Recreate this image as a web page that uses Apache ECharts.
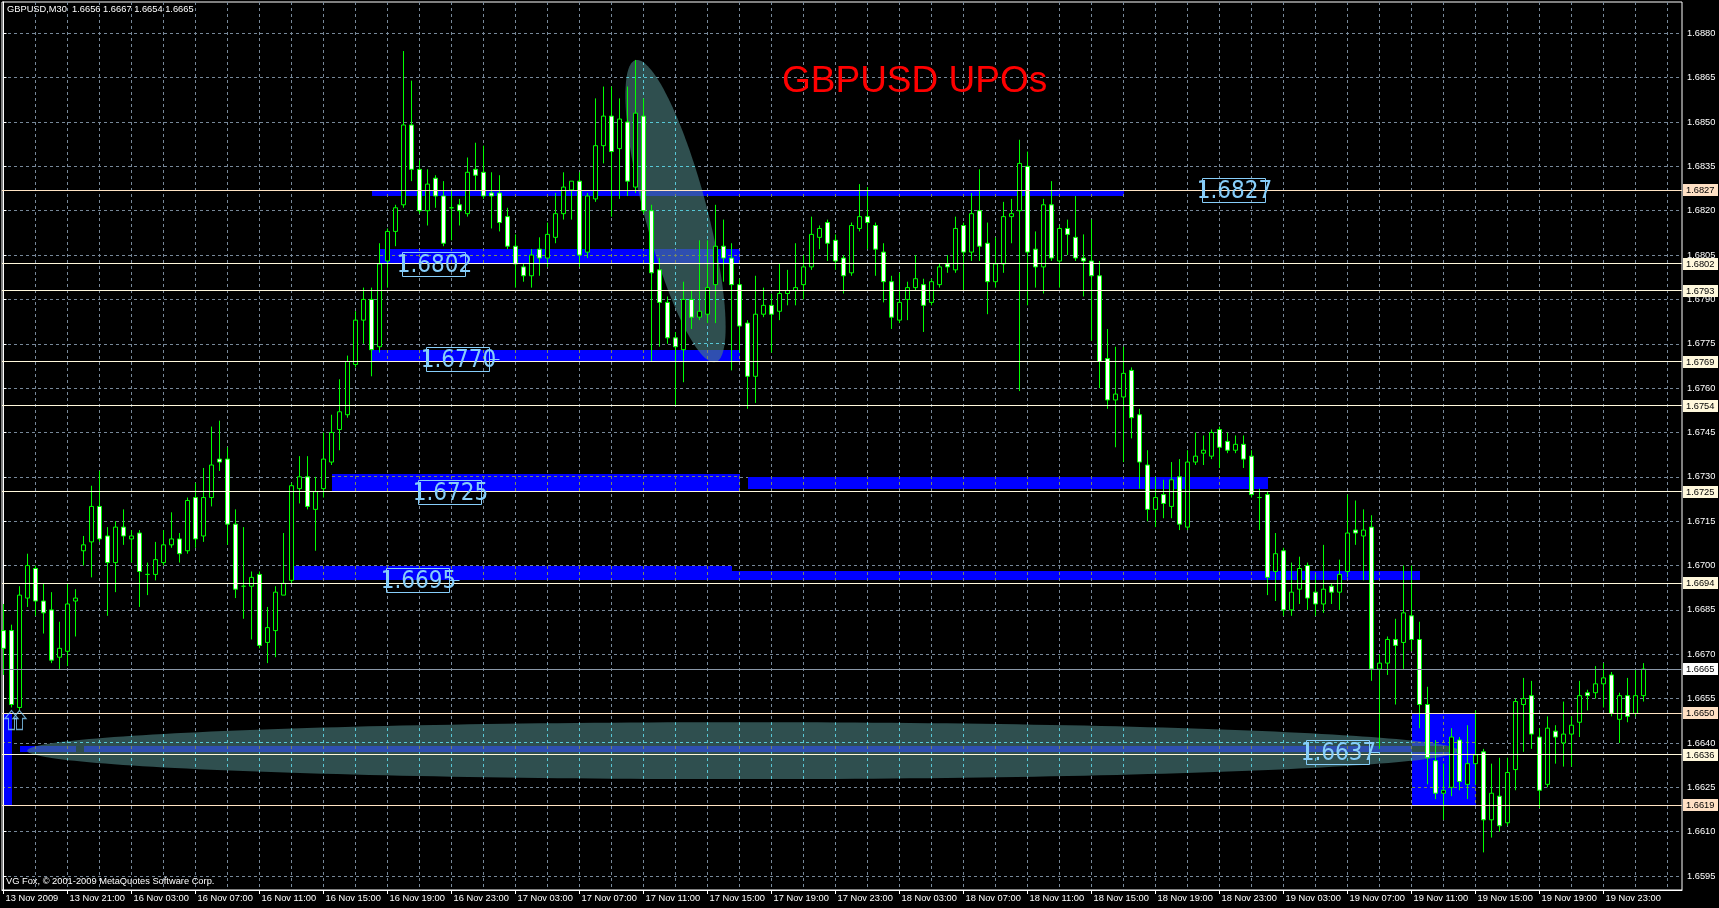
<!DOCTYPE html>
<html><head><meta charset="utf-8">
<script src="https://cdn.jsdelivr.net/npm/echarts@6/dist/echarts.min.js"></script>
<style>html,body{margin:0;padding:0;background:#000;overflow:hidden}#c{width:1719px;height:908px}</style>
</head><body><div id="c"></div>
<script>
// ---- data (GBPUSD M30) ----
const opens  = [1.6678,1.6678,1.6652,1.6689,1.6699,1.6688,1.6685,1.6669,1.6671,1.6688,1.6705,1.6708,1.6720,1.6710,1.6701,1.6713,1.6709,1.6711,1.6697,1.6697,1.6701,1.6707,1.6709,1.6705,1.6723,1.6710,1.6723,1.6736,1.6736,1.6714,1.6693,1.6693,1.6697,1.6674,1.6678,1.6690,1.6695,1.6726,1.6730,1.6719,1.6726,1.6735,1.6746,1.6751,1.6768,1.6783,1.6790,1.6774,1.6803,1.6813,1.6822,1.6849,1.6834,1.6820,1.6831,1.6825,1.6821,1.6822,1.6819,1.6834,1.6833,1.6826,1.6826,1.6818,1.6808,1.6801,1.6798,1.6807,1.6804,1.6811,1.6819,1.6827,1.6830,1.6806,1.6824,1.6842,1.6852,1.6841,1.6850,1.6828,1.6852,1.6820,1.6800,1.6789,1.6777,1.6773,1.6790,1.6784,1.6785,1.6795,1.6808,1.6804,1.6795,1.6782,1.6764,1.6785,1.6788,1.6786,1.6792,1.6793,1.6795,1.6801,1.6811,1.6816,1.6810,1.6804,1.6799,1.6814,1.6818,1.6815,1.6806,1.6796,1.6783,1.6790,1.6794,1.6795,1.6789,1.6795,1.6802,1.6800,1.6815,1.6806,1.6820,1.6809,1.6796,1.6802,1.6818,1.6820,1.6835,1.6807,1.6801,1.6822,1.6803,1.6814,1.6811,1.6804,1.6803,1.6798,1.6770,1.6756,1.6757,1.6766,1.6751,1.6734,1.6719,1.6724,1.6720,1.6730,1.6713,1.6735,1.6738,1.6737,1.6746,1.6742,1.6739,1.6741,1.6737,1.6723,1.6724,1.6698,1.6705,1.6685,1.6692,1.6700,1.6691,1.6687,1.6693,1.6691,1.6698,1.6712,1.6710,1.6713,1.6665,1.6667,1.6675,1.6674,1.6683,1.6675,1.6653,1.6634,1.6623,1.6625,1.6641,1.6626,1.6633,1.6637,1.6614,1.6622,1.6613,1.6631,1.6653,1.6656,1.6642,1.6626,1.6644,1.6640,1.6643,1.6647,1.6657,1.6657,1.6660,1.6663,1.6648,1.6656,1.6650,1.6656];
const closes = [1.6672,1.6653,1.6690,1.6700,1.6688,1.6684,1.6668,1.6672,1.6687,1.6689,1.6707,1.6720,1.6709,1.6701,1.6713,1.6710,1.6710,1.6698,1.6697,1.6702,1.6707,1.6709,1.6704,1.6722,1.6709,1.6723,1.6734,1.6735,1.6714,1.6692,1.6693,1.6696,1.6673,1.6679,1.6691,1.6694,1.6727,1.6730,1.6720,1.6725,1.6736,1.6745,1.6752,1.6769,1.6783,1.6790,1.6773,1.6802,1.6813,1.6821,1.6849,1.6834,1.6820,1.6829,1.6825,1.6809,1.6821,1.6820,1.6833,1.6832,1.6825,1.6825,1.6816,1.6808,1.6802,1.6798,1.6805,1.6804,1.6812,1.6819,1.6828,1.6830,1.6805,1.6825,1.6842,1.6852,1.6840,1.6851,1.6830,1.6853,1.6820,1.6799,1.6789,1.6777,1.6774,1.6790,1.6784,1.6786,1.6794,1.6808,1.6804,1.6795,1.6781,1.6764,1.6785,1.6788,1.6785,1.6792,1.6793,1.6794,1.6801,1.6812,1.6814,1.6809,1.6803,1.6798,1.6815,1.6818,1.6816,1.6807,1.6796,1.6784,1.6789,1.6794,1.6797,1.6788,1.6796,1.6801,1.6801,1.6814,1.6806,1.6819,1.6808,1.6796,1.6802,1.6818,1.6819,1.6836,1.6806,1.6801,1.6822,1.6804,1.6814,1.6812,1.6804,1.6803,1.6798,1.6769,1.6756,1.6758,1.6765,1.6750,1.6735,1.6719,1.6723,1.6721,1.6729,1.6714,1.6735,1.6737,1.6739,1.6745,1.6740,1.6739,1.6741,1.6736,1.6724,1.6723,1.6696,1.6704,1.6685,1.6691,1.6699,1.6689,1.6687,1.6692,1.6691,1.6697,1.6711,1.6711,1.6712,1.6665,1.6667,1.6675,1.6673,1.6684,1.6675,1.6653,1.6635,1.6623,1.6624,1.6642,1.6627,1.6633,1.6636,1.6614,1.6623,1.6612,1.6630,1.6654,1.6655,1.6643,1.6624,1.6645,1.6642,1.6643,1.6646,1.6656,1.6656,1.6660,1.6662,1.6650,1.6656,1.6649,1.6656,1.6665];
const lows   = [1.6663,1.6652,1.6651,1.6686,1.6683,1.6677,1.6667,1.6665,1.6666,1.6676,1.6700,1.6696,1.6708,1.6683,1.6691,1.6707,1.6701,1.6686,1.6690,1.6695,1.6700,1.6706,1.6701,1.6704,1.6706,1.6708,1.6720,1.6732,1.6707,1.6689,1.6682,1.6675,1.6672,1.6667,1.6669,1.6690,1.6694,1.6721,1.6719,1.6705,1.6723,1.6734,1.6739,1.6750,1.6767,1.6775,1.6764,1.6772,1.6794,1.6808,1.6821,1.6830,1.6819,1.6815,1.6821,1.6808,1.6810,1.6815,1.6818,1.6827,1.6824,1.6814,1.6813,1.6807,1.6794,1.6796,1.6794,1.6798,1.6801,1.6809,1.6817,1.6817,1.6801,1.6804,1.6823,1.6836,1.6818,1.6824,1.6825,1.6826,1.6819,1.6769,1.6774,1.6775,1.6754,1.6762,1.6780,1.6783,1.6782,1.6782,1.6796,1.6766,1.6772,1.6753,1.6755,1.6784,1.6772,1.6783,1.6788,1.6788,1.6790,1.6800,1.6807,1.6803,1.6800,1.6792,1.6798,1.6813,1.6807,1.6798,1.6789,1.6780,1.6782,1.6783,1.6793,1.6779,1.6788,1.6794,1.6799,1.6799,1.6793,1.6803,1.6803,1.6785,1.6794,1.6799,1.6809,1.6759,1.6788,1.6794,1.6792,1.6803,1.6794,1.6805,1.6803,1.6791,1.6776,1.6760,1.6753,1.6740,1.6735,1.6743,1.6726,1.6715,1.6713,1.6716,1.6716,1.6712,1.6712,1.6734,1.6734,1.6736,1.6733,1.6738,1.6738,1.6733,1.6723,1.6712,1.6690,1.6688,1.6683,1.6683,1.6687,1.6685,1.6683,1.6684,1.6687,1.6685,1.6696,1.6707,1.6695,1.6661,1.6638,1.6663,1.6653,1.6665,1.6671,1.6645,1.6626,1.6621,1.6614,1.6622,1.6624,1.6621,1.6626,1.6603,1.6608,1.6610,1.6612,1.6624,1.6637,1.6638,1.6618,1.6625,1.6633,1.6632,1.6632,1.6642,1.6651,1.6655,1.6652,1.6649,1.6640,1.6647,1.6649,1.6654];
const highs  = [1.6687,1.6680,1.6693,1.6704,1.6700,1.6694,1.6691,1.6681,1.6694,1.6692,1.6710,1.6727,1.6732,1.6713,1.6715,1.6719,1.6712,1.6712,1.6701,1.6708,1.6712,1.6718,1.6711,1.6723,1.6728,1.6733,1.6747,1.6749,1.6740,1.6719,1.6713,1.6698,1.6698,1.6686,1.6693,1.6711,1.6728,1.6737,1.6737,1.6730,1.6745,1.6751,1.6763,1.6771,1.6786,1.6794,1.6794,1.6809,1.6814,1.6822,1.6874,1.6864,1.6837,1.6834,1.6832,1.6830,1.6827,1.6824,1.6838,1.6843,1.6842,1.6833,1.6832,1.6821,1.6812,1.6802,1.6807,1.6811,1.6816,1.6826,1.6833,1.6830,1.6833,1.6826,1.6858,1.6862,1.6862,1.6858,1.6862,1.6871,1.6858,1.6822,1.6804,1.6791,1.6779,1.6796,1.6793,1.6810,1.6810,1.6822,1.6817,1.6809,1.6797,1.6783,1.6798,1.6794,1.6792,1.6802,1.6800,1.6809,1.6805,1.6818,1.6815,1.6817,1.6812,1.6805,1.6816,1.6829,1.6828,1.6816,1.6809,1.6798,1.6799,1.6796,1.6805,1.6797,1.6797,1.6802,1.6805,1.6818,1.6816,1.6826,1.6834,1.6816,1.6811,1.6823,1.6824,1.6844,1.6840,1.6813,1.6824,1.6830,1.6815,1.6817,1.6825,1.6812,1.6817,1.6803,1.6780,1.6774,1.6774,1.6767,1.6753,1.6739,1.6730,1.6729,1.6735,1.6736,1.6739,1.6745,1.6744,1.6746,1.6747,1.6745,1.6744,1.6744,1.6739,1.6726,1.6725,1.6711,1.6706,1.6701,1.6703,1.6701,1.6697,1.6707,1.6694,1.6702,1.6724,1.6722,1.6719,1.6717,1.6670,1.6676,1.6682,1.6700,1.6700,1.6681,1.6659,1.6641,1.6633,1.6645,1.6642,1.6646,1.6651,1.6638,1.6633,1.6635,1.6635,1.6655,1.6662,1.6661,1.6645,1.6649,1.6646,1.6654,1.6649,1.6661,1.6658,1.6666,1.6667,1.6664,1.6657,1.6662,1.6665,1.6667];

const timeTickBars   = [0,8,16,24,32,40,48,56,64,72,80,88,96,104,112,120,128,136,144,152,160,168,176,184,192,200];
const timeTickLabels = ["13 Nov 2009","13 Nov 21:00","16 Nov 03:00","16 Nov 07:00","16 Nov 11:00","16 Nov 15:00","16 Nov 19:00","16 Nov 23:00","17 Nov 03:00","17 Nov 07:00","17 Nov 11:00","17 Nov 15:00","17 Nov 19:00","17 Nov 23:00","18 Nov 03:00","18 Nov 07:00","18 Nov 11:00","18 Nov 15:00","18 Nov 19:00","18 Nov 23:00","19 Nov 03:00","19 Nov 07:00","19 Nov 11:00","19 Nov 15:00","19 Nov 19:00","19 Nov 23:00"];
const priceTicks = [1.6595,1.6610,1.6625,1.6640,1.6655,1.6670,1.6685,1.6700,1.6715,1.6730,1.6745,1.6760,1.6775,1.6790,1.6805,1.6820,1.6835,1.6850,1.6865,1.6880];

// horizontal levels (right-axis tagged lines)
const hLevels = [1.6827,1.6802,1.6793,1.6769,1.6754,1.6725,1.6694,1.6665,1.6650,1.6636,1.6619];
const bidLevel = 1.6665;
const peachLevels = [1.6827,1.6650,1.6619];
// zones: [startBar, endBar, topPrice, bottomPrice]
const zones = [[46,140,1.6827,1.6825],[47,92,1.6807,1.6802],[46,92,1.6773,1.6769],[41,92,1.6731,1.6725],[93,158,1.6730,1.6726],[36,91,1.6700,1.6695],[91,177,1.6698,1.6695],[2,9,1.6639,1.6637],[10,181,1.6639,1.6637],[0,1,1.6650,1.6619],[176,184,1.6650,1.6619]];
// ellipses: [bar1, price1, bar2, price2, minor/major ratio]
const ellipses = [[2.96,1.66374,181.85,1.66374,0.0398],[79,1.68709,89,1.67688,0.2]];
// text labels: [bar, price, text]
const textLabels = [[150,1.6827,"1.6827"],[50,1.6802,"1.6802"],[53,1.6770,"1.6770"],[52,1.6725,"1.6725"],[48,1.6695,"1.6695"],[163,1.6637,"1.6637"]];
const tailedLabels = ["1.6770","1.6695","1.6637"];
// buy arrows: [bar, price]
const arrows = [[1,1.6651],[2,1.6651]];

// ---- chart ----
const chart = echarts.init(document.getElementById('c'));
const FONT = 'Liberation Sans';
const GRID = '#778899';
const xMin = -0.1875, xMax = 209.8125;
const yMin = 1.659027, yMax = 1.689059;
const gridBars = []; for (let b = 0; b <= 208; b += 4) gridBars.push(b);
const labelOf = {}; timeTickBars.forEach((b, k) => labelOf[b] = timeTickLabels[k]);

function levelStyle(v) {
  if (v === bidLevel) return {line: '#8a98a8', bg: '#ffffff'};
  if (peachLevels.indexOf(v) >= 0) return {line: '#ffe4c4', bg: '#ffe0c4'};
  return {line: '#fff8dc', bg: '#fff8dc'};
}

// --- geometry helpers (pixel space) ---
function ellipsePoly(api, e) {
  const p1 = api.coord([e[0], e[1]]), p2 = api.coord([e[2], e[3]]);
  const cx = (p1[0] + p2[0]) / 2, cy = (p1[1] + p2[1]) / 2;
  const dx = p2[0] - p1[0], dy = p2[1] - p1[1];
  const a = Math.sqrt(dx * dx + dy * dy) / 2, b = a * e[4];
  const ang = Math.atan2(dy, dx), ca = Math.cos(ang), sa = Math.sin(ang);
  const pts = [];
  for (let k = 0; k < 240; k++) {
    const t = k / 240 * Math.PI * 2;
    const u = a * Math.cos(t), w = b * Math.sin(t);
    pts.push([cx + u * ca - w * sa, cy + u * sa + w * ca]);
  }
  return pts;
}
function zoneRect(api, z) {
  const p0 = api.coord([z[0], z[2]]), p1 = api.coord([z[1], z[3]]);
  const x0 = Math.round(p0[0]), x1 = Math.round(p1[0]);
  const y0 = Math.round(p0[1]), y1 = Math.round(p1[1]);
  return {x0: x0, y0: y0, x1: Math.max(x0 + 1, x1), y1: Math.max(y0 + 1, y1)};
}
function clipPolyRect(pts, r) {
  let out = pts;
  const edges = [
    [p => p[0] >= r.x0, (a, b) => { const t = (r.x0 - a[0]) / (b[0] - a[0]); return [r.x0, a[1] + t * (b[1] - a[1])]; }],
    [p => p[0] <= r.x1, (a, b) => { const t = (r.x1 - a[0]) / (b[0] - a[0]); return [r.x1, a[1] + t * (b[1] - a[1])]; }],
    [p => p[1] >= r.y0, (a, b) => { const t = (r.y0 - a[1]) / (b[1] - a[1]); return [a[0] + t * (b[0] - a[0]), r.y0]; }],
    [p => p[1] <= r.y1, (a, b) => { const t = (r.y1 - a[1]) / (b[1] - a[1]); return [a[0] + t * (b[0] - a[0]), r.y1]; }]
  ];
  for (const [inside, inter] of edges) {
    const inp = out; out = [];
    if (!inp.length) break;
    for (let i = 0; i < inp.length; i++) {
      const cur = inp[i], prev = inp[(i + inp.length - 1) % inp.length];
      const ci = inside(cur), pi = inside(prev);
      if (ci) { if (!pi) out.push(inter(prev, cur)); out.push(cur); }
      else if (pi) out.push(inter(prev, cur));
    }
  }
  return out;
}
function chord(poly, axis, c) {
  const o = 1 - axis; let lo = Infinity, hi = -Infinity;
  for (let i = 0; i < poly.length; i++) {
    const a = poly[i], b = poly[(i + 1) % poly.length];
    if ((a[axis] - c) * (b[axis] - c) <= 0 && a[axis] !== b[axis]) {
      const t = (c - a[axis]) / (b[axis] - a[axis]); const v = a[o] + t * (b[o] - a[o]);
      lo = Math.min(lo, v); hi = Math.max(hi, v);
    }
  }
  return lo < hi ? [lo, hi] : null;
}
function rectPoly(r) { return [[r.x0, r.y0], [r.x1, r.y0], [r.x1, r.y1], [r.x0, r.y1]]; }
function snap(v) { return Math.floor(v) + 0.5; }

// everything drawn by MT4 as background objects (XOR-combined), done geometrically
function renderObjects(params, api) {
  const kids = [];
  const gx0 = api.coord([xMin, yMax])[0], gy0 = api.coord([xMin, yMax])[1];
  const eps = ellipses.map(e => ellipsePoly(api, e));
  const rs = zones.map(z => zoneRect(api, z));
  eps.forEach(p => kids.push({type: 'polygon', shape: {points: p}, style: {fill: '#2f4f4f'}}));
  rs.forEach(r => kids.push({type: 'rect', shape: {x: r.x0, y: r.y0, width: r.x1 - r.x0, height: r.y1 - r.y0}, style: {fill: '#0000ff'}}));
  // zone ^ ellipse
  rs.forEach(r => eps.forEach(p => {
    const c = clipPolyRect(p, r);
    if (c.length > 2) kids.push({type: 'polygon', shape: {points: c}, style: {fill: '#2f4fb0'}});
  }));
  // zone ^ zone (^ ellipse)
  for (let i = 0; i < rs.length; i++) for (let j = i + 1; j < rs.length; j++) {
    const a = rs[i], b = rs[j];
    const r = {x0: Math.max(a.x0, b.x0), y0: Math.max(a.y0, b.y0), x1: Math.min(a.x1, b.x1), y1: Math.min(a.y1, b.y1)};
    if (r.x1 > r.x0 && r.y1 > r.y0) {
      kids.push({type: 'rect', shape: {x: r.x0, y: r.y0, width: r.x1 - r.x0, height: r.y1 - r.y0}, style: {fill: '#000000'}});
      eps.forEach(p => { const c = clipPolyRect(p, r); if (c.length > 2) kids.push({type: 'polygon', shape: {points: c}, style: {fill: '#2f4f4f'}}); });
    }
  }
  // grid seen through the objects (XOR colours)
  const vx = gridBars.map(b => snap(api.coord([b, yMin])[0] - 0.01));
  const hy = priceTicks.map(p => snap(api.coord([xMin, p])[1]));
  function gridIn(poly, color) {
    vx.forEach(x => { const c = chord(poly, 0, x); if (c) kids.push({type: 'line', shape: {x1: x, y1: c[0], x2: x, y2: c[1]}, style: {stroke: color, lineWidth: 1, lineDash: [3, 3], lineDashOffset: c[0] - gy0}}); });
    hy.forEach(y => { const c = chord(poly, 1, y); if (c) kids.push({type: 'line', shape: {x1: c[0], y1: y, x2: c[1], y2: y}, style: {stroke: color, lineWidth: 1, lineDash: [3, 3], lineDashOffset: c[0] - gx0}}); });
  }
  eps.forEach(p => gridIn(p, '#58c7d6'));
  rs.forEach(r => gridIn(rectPoly(r), '#778866'));
  return {type: 'group', children: kids};
}

const candleData = opens.map((o, i) => [i, o, closes[i], lows[i], highs[i]]);

const option = {
  backgroundColor: '#000000',
  animation: false,
  grid: {left: 2, right: 37, top: 2, bottom: 18, show: true, borderColor: '#ffffff', borderWidth: 1, backgroundColor: 'transparent'},
  xAxis: [{
    type: 'value', min: xMin, max: xMax, position: 'bottom',
    axisLine: {show: false}, axisLabel: {show: false},
    axisTick: {show: false, customValues: gridBars},
    splitLine: {show: true, lineStyle: {color: GRID, width: 1, type: [3, 3]}}
  }, {
    type: 'value', min: xMin, max: xMax, position: 'bottom',
    axisLine: {show: true, lineStyle: {color: '#ffffff'}},
    axisTick: {show: true, length: 4, lineStyle: {color: '#ffffff'}, customValues: timeTickBars},
    axisLabel: {show: true, customValues: timeTickBars, color: '#ffffff', fontFamily: FONT, fontSize: 9.3, align: 'left', margin: 4, padding: [0, 0, 0, 2], formatter: v => labelOf[v] || ''},
    splitLine: {show: false}
  }],
  yAxis: {
    type: 'value', min: yMin, max: yMax, position: 'right',
    axisLine: {show: true, lineStyle: {color: '#ffffff'}},
    axisTick: {show: true, length: 3, lineStyle: {color: '#ffffff'}, customValues: priceTicks},
    axisLabel: {show: true, customValues: priceTicks, color: '#ffffff', fontFamily: FONT, fontSize: 9.3, margin: 5, formatter: v => v.toFixed(4)},
    splitLine: {show: true, lineStyle: {color: GRID, width: 1, type: [3, 3]}}
  },
  graphic: [
    {type: 'text', left: 7, top: 5, z: 20, style: {text: 'GBPUSD,M30  1.6656 1.6667 1.6654 1.6665', fill: '#ffffff', font: '9.3px "Liberation Sans"'}},
    {type: 'text', left: 6, top: 877, z: 20, style: {text: 'VG Fox, \u00a9 2001-2009 MetaQuotes Software Corp.', fill: '#ffffff', font: '9.3px "Liberation Sans"'}},
    {type: 'text', left: 782, top: 63, z: 20, style: {text: 'GBPUSD UPOs', fill: '#ff0000', font: '37px "Liberation Sans"'}}
  ],
  series: [
    {
      type: 'custom', name: 'objects', z: 1, silent: true, xAxisIndex: 0, yAxisIndex: 0,
      data: [[xMin, yMin]], encode: {x: 0, y: 1},
      renderItem: renderObjects
    },
    {
      type: 'candlestick', name: 'GBPUSD', z: 4, silent: true, xAxisIndex: 0, yAxisIndex: 0,
      data: candleData, barWidth: 4,
      itemStyle: {color: '#000000', color0: '#ffffff', borderColor: '#00ff00', borderColor0: '#00ff00', borderColorDoji: '#00ff00', borderWidth: 1}
    },
    {
      type: 'custom', name: 'levels', z: 5, silent: true, xAxisIndex: 0, yAxisIndex: 0,
      data: hLevels.map(v => [xMin, v]), encode: {x: 0, y: 1},
      renderItem: (params, api) => {
        const v = hLevels[params.dataIndex];
        const s = levelStyle(v);
        const pL = api.coord([xMin, v]), pR = api.coord([xMax, v]);
        const y = snap(pL[1]);
        return {type: 'group', children: [
          {type: 'line', shape: {x1: pL[0], y1: y, x2: pR[0], y2: y}, style: {stroke: s.line, lineWidth: 1}},
          {type: 'rect', shape: {x: pR[0] + 1, y: Math.round(pL[1]) - 6, width: 35, height: 12}, style: {fill: s.bg}},
          {type: 'text', style: {text: v.toFixed(4), x: pR[0] + 4, y: Math.round(pL[1]) + 0.5, fill: '#000000', fontFamily: FONT, fontSize: 9.3, align: 'left', verticalAlign: 'middle'}}
        ]};
      }
    },
    {
      type: 'scatter', name: 'arrows', z: 6, silent: true, xAxisIndex: 0, yAxisIndex: 0,
      data: arrows, symbol: 'path://M5,0L10,6L7.3,6L7.3,14L2.7,14L2.7,6L0,6Z', symbolSize: [13, 19], symbolOffset: [0, '50%'],
      itemStyle: {color: 'rgba(0,0,0,0)', borderColor: '#87cefa', borderWidth: 1.2}
    },
    {
      type: 'custom', name: 'labels', z: 7, silent: true, xAxisIndex: 0, yAxisIndex: 0,
      data: textLabels.map(t => [t[0], t[1]]), encode: {x: 0, y: 1},
      renderItem: (params, api) => {
        const t = textLabels[params.dataIndex];
        const p = api.coord([t[0], t[1]]);
        const x = Math.round(p[0] - 1.5) + 0.5, y = Math.round(p[1] - 12) + 0.5;
        const children = [
          {type: 'rect', shape: {x: x, y: y, width: 63, height: 24}, style: {fill: 'none', stroke: '#87cefa', lineWidth: 1}},
          {type: 'text', style: {text: t[2], x: x + 32, y: y + 13, fill: '#87cefa', fontFamily: '"Liberation Sans Narrow", "DejaVu Sans Condensed", sans-serif', fontSize: 24, align: 'center', verticalAlign: 'middle'}}
        ];
        if (tailedLabels.indexOf(t[2]) >= 0) {
          children.push({type: 'line', shape: {x1: x + 63, y1: y + 12, x2: x + 73, y2: y + 12}, style: {stroke: '#87cefa', lineWidth: 1}});
        }
        return {type: 'group', children: children};
      }
    }
  ]
};
chart.setOption(option);
</script>
</body></html>
